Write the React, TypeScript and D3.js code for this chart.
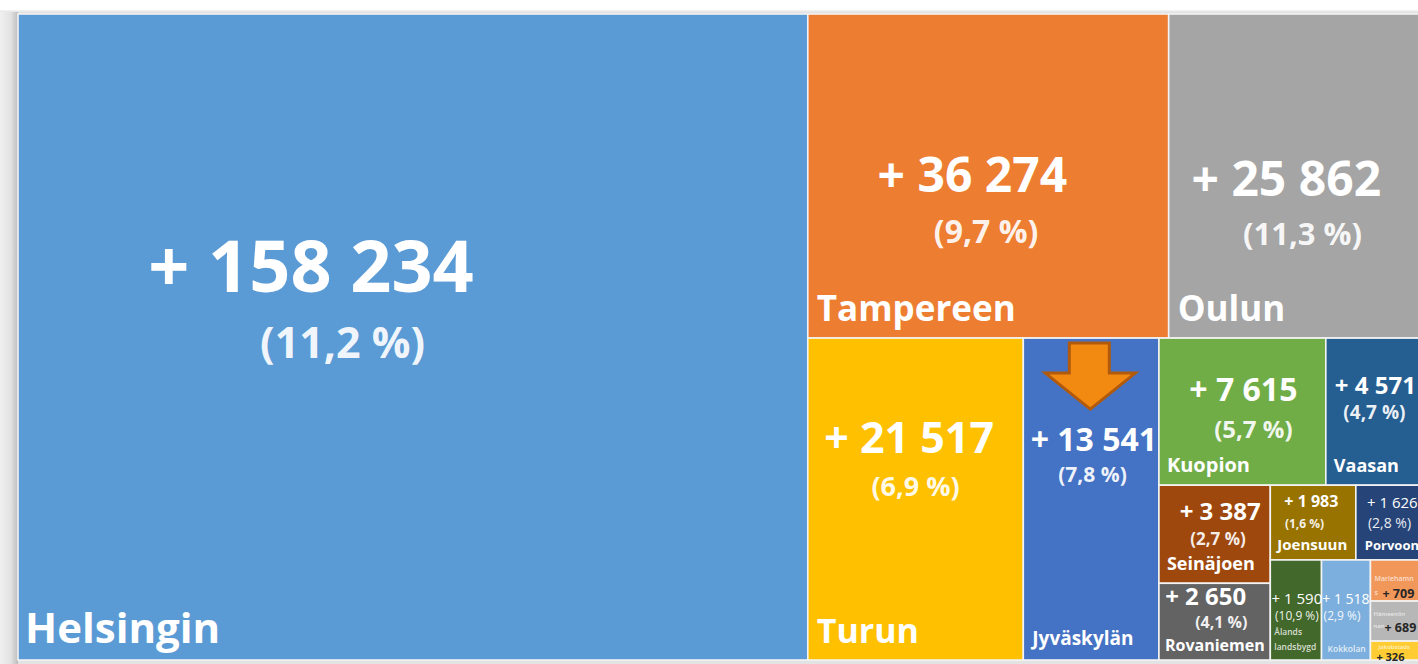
import React from "react";
import * as d3 from "d3";

// ---- data ----
const regions = [
  "Helsingin", "Tampereen", "Oulun", "Turun", "Jyväskylän", "Kuopion", "Vaasan",
  "Seinäjoen", "Rovaniemen", "Joensuun", "Porvoon", "Ålands landsbygd", "Kokkolan",
  "Mariehamns", "Hämeenlinnan", "Jakobstads",
];
const growth = [158234, 36274, 25862, 21517, 13541, 7615, 4571, 3387, 2650, 1983, 1626, 1590, 1518, 709, 689, 326];
const growthPct = ["11,2", "9,7", "11,3", "6,9", "7,8", "5,7", "4,7", "2,7", "4,1", "1,6", "2,8", "10,9", "2,9", "", "", ""];
const colors = [
  "#5B9BD5", "#ED7D31", "#A5A5A5", "#FFC000", "#4472C4", "#70AD47", "#255E91",
  "#9E480E", "#636363", "#997300", "#264478", "#43682B", "#7CAFDD",
  "#F1975A", "#B7B7B7", "#FFCD33",
];
// strip plan of the tiling: [number of items, "col" = strip along left side, "row" = strip along top]
const stripPlan: [number, "col" | "row"][] = [
  [1, "col"], [2, "row"], [1, "col"], [1, "col"], [2, "row"], [2, "col"], [2, "row"], [1, "col"], [1, "col"], [3, "col"],
];

// ---- label styles (sizes / offsets inside each cell) ----
type LS = {
  vs: number; vfx: number; vdy: number; vw?: number;
  ps?: number; pfx?: number; pdy?: number;
  ns: number; nx: number; nb?: number; lines?: string[]; ldy?: number[];
  small?: { vx: number; vdy: number };
};
const labelStyles: LS[] = [
  { vs: 72, vfx: 0.371, vdy: 278, ps: 43, pfx: 0.411, pdy: 344, ns: 42, nx: 7, nb: 17 },
  { vs: 48, vfx: 0.456, vdy: 178, ps: 32, pfx: 0.494, pdy: 229, ns: 35, nx: 9, nb: 17 },
  { vs: 48, vfx: 0.457, vdy: 182, ps: 31, pfx: 0.52, pdy: 231, ns: 35, nx: 9, nb: 17 },
  { vs: 43, vfx: 0.47, vdy: 115, ps: 27, pfx: 0.5, pdy: 158, ns: 34, nx: 9, nb: 17 },
  { vs: 32, vfx: 0.52, vdy: 113, ps: 21, pfx: 0.51, pdy: 144, ns: 19, nx: 9, nb: 15 },
  { vs: 32, vfx: 0.506, vdy: 63, ps: 24, pfx: 0.566, pdy: 100, ns: 20, nx: 8, nb: 13 },
  { vs: 24, vfx: 0.495, vdy: 56, ps: 19, pfx: 0.485, pdy: 81, ns: 18, nx: 8, nb: 13 },
  { vs: 24, vfx: 0.55, vdy: 35, ps: 17, pfx: 0.53, pdy: 60, ns: 18, nx: 8, nb: 13 },
  { vs: 24, vfx: 0.42, vdy: 22, ps: 16, pfx: 0.56, pdy: 45, ns: 16, nx: 6, nb: 9 },
  { vs: 16, vfx: 0.48, vdy: 22, ps: 12, pfx: 0.4, pdy: 43, ns: 15, nx: 7, nb: 10 },
  { vs: 15, vfx: 0.52, vdy: 23, vw: 400, ps: 14, pfx: 0.48, pdy: 43, ns: 13, nx: 9, nb: 10 },
  { vs: 15, vfx: 0.52, vdy: 44, vw: 400, ps: 12, pfx: 0.52, pdy: 60, ns: 8.5, nx: 4, lines: ["Ålands", "landsbygd"], ldy: [75, 90] },
  { vs: 14, vfx: 0.5, vdy: 44, vw: 400, ps: 12, pfx: 0.42, pdy: 60, ns: 8.5, nx: 6, lines: ["Kokkolan"], ldy: [92] },
  { vs: 12.5, vfx: 0, vdy: 0, ns: 7, nx: 4, lines: ["Mariehamn", "s"], ldy: [21, 35], small: { vx: 12, vdy: 38 } },
  { vs: 12.5, vfx: 0, vdy: 0, ns: 6, nx: 3, lines: ["Hämeenlin", "nan"], ldy: [15, 27], small: { vx: 14, vdy: 31 } },
  { vs: 11, vfx: 0, vdy: 0, ns: 6, nx: 8, lines: ["Jakobstads"], ldy: [7.5], small: { vx: 6, vdy: 19.5 } },
];

const W = 1418;
const H = 664;
const area = { x0: 18, y0: 14, x1: 1426, y1: 660 };

const fmtLocale = d3.formatLocale({ decimal: ",", thousands: " ", grouping: [3], currency: ["", ""] });
const fmt = fmtLocale.format(",d");

type Datum = { name: string; value: number; pct: string; color: string; idx: number };

function planTile(parent: any, x0: number, y0: number, x1: number, y1: number) {
  const nodes = parent.children;
  let remaining = d3.sum(nodes, (n: any) => n.value);
  let i = 0;
  for (const [k, dir] of stripPlan) {
    const group = nodes.slice(i, i + k);
    if (!group.length) break;
    const gsum = d3.sum(group, (n: any) => n.value);
    if (dir === "col") {
      const w = ((x1 - x0) * gsum) / remaining;
      let y = y0;
      for (const n of group) {
        const h = ((y1 - y0) * n.value) / gsum;
        n.x0 = x0; n.x1 = x0 + w; n.y0 = y; n.y1 = y + h;
        y += h;
      }
      x0 += w;
    } else {
      const h = ((y1 - y0) * gsum) / remaining;
      let x = x0;
      for (const n of group) {
        const w = ((x1 - x0) * n.value) / gsum;
        n.x0 = x; n.x1 = x + w; n.y0 = y0; n.y1 = y0 + h;
        x += w;
      }
      y0 += h;
    }
    remaining -= gsum;
    i += k;
  }
}

export default function App() {
  const data: Datum[] = regions.map((name, idx) => ({
    name, value: growth[idx], pct: growthPct[idx], color: colors[idx], idx,
  }));
  const root = d3
    .hierarchy<any>({ children: data })
    .sum((d: any) => d.value || 0);
  d3.treemap<any>()
    .tile(planTile as any)
    .size([area.x1 - area.x0, area.y1 - area.y0])(root);
  root.each((n: any) => {
    n.x0 += area.x0; n.x1 += area.x0; n.y0 += area.y0; n.y1 += area.y0;
  });
  const leaves = root.leaves() as any[];
  const font = "'Open Sans', 'DejaVu Sans', sans-serif";

  const jyv = leaves.find((l) => l.data.name === "Jyväskylän");
  const ax = jyv.x0;
  const ay = jyv.y0;
  const arrow = [
    [46, 5], [86, 5], [86, 35], [112, 35], [67, 71], [22, 35], [46, 35],
  ].map(([dx, dy]) => `${ax + dx},${ay + dy}`).join(" ");

  return (
    <svg width={W} height={H} style={{ position: "absolute", left: 0, top: 0, display: "block", background: "#ffffff" }} fontFamily={font}>
      <defs>
        <linearGradient id="frameTop" x1="0" y1="0" x2="0" y2="1">
          <stop offset="0" stopColor="#f4f4f4" />
          <stop offset="1" stopColor="#cfcfcf" />
        </linearGradient>
        <linearGradient id="frameLeft" x1="0" y1="0" x2="1" y2="0">
          <stop offset="0" stopColor="#f0f0f0" />
          <stop offset="0.6" stopColor="#e2e2e2" />
          <stop offset="1" stopColor="#bdbdbd" />
        </linearGradient>
      </defs>
      <rect x={0} y={10} width={W} height={H - 10} fill="#e3e3e3" />
      <rect x={0} y={10} width={W} height={5} fill="url(#frameTop)" />
      <rect x={0} y={12} width={18} height={H - 12} fill="url(#frameLeft)" />
      {leaves.map((l) => (
        <rect
          key={l.data.name}
          x={l.x0}
          y={l.y0}
          width={l.x1 - l.x0}
          height={l.y1 - l.y0}
          fill={l.data.color}
          stroke="#f3f3f3"
          strokeWidth={1.6}
        />
      ))}
      {leaves.map((l) => {
        const s = labelStyles[l.data.idx];
        const w = l.x1 - l.x0;
        const h = l.y1 - l.y0;
        const valueText = "+ " + fmt(l.data.value);
        if (s.small) {
          return (
            <g key={"t" + l.data.name}>
              {s.lines!.map((t, j) => (
                <text key={j} x={l.x0 + s.nx} y={l.y0 + s.ldy![j]} fontSize={s.ns} fill="#ffffff" fillOpacity={0.7} fontWeight={600}>
                  {t}
                </text>
              ))}
              <text x={l.x0 + s.small.vx} y={l.y0 + s.small.vdy} fontSize={s.vs} fontWeight={700} fill="#262626">
                {valueText}
              </text>
            </g>
          );
        }
        return (
          <g key={"t" + l.data.name}>
            <text
              x={l.x0 + w * s.vfx}
              y={l.y0 + s.vdy}
              textAnchor="middle"
              fontSize={s.vs}
              fontWeight={s.vw ?? 700}
              fill="#ffffff"
            >
              {valueText}
            </text>
            {l.data.pct && (
              <text
                x={l.x0 + w * s.pfx!}
                y={l.y0 + s.pdy!}
                textAnchor="middle"
                fontSize={s.ps}
                fontWeight={s.vw ? 400 : 700}
                fill="#ffffff"
                fillOpacity={0.92}
              >
                {`(${l.data.pct} %)`}
              </text>
            )}
            {s.lines
              ? s.lines.map((t, j) => (
                  <text key={j} x={l.x0 + s.nx} y={l.y0 + s.ldy![j]} fontSize={s.ns} fontWeight={600} fill="#ffffff" fillOpacity={0.8}>
                    {t}
                  </text>
                ))
              : (
                <text x={l.x0 + s.nx} y={l.y0 + h - s.nb!} fontSize={s.ns} fontWeight={700} fill="#ffffff">
                  {l.data.name}
                </text>
              )}
          </g>
        );
      })}
      <polygon points={arrow} fill="#F28A12" stroke="#B25A0C" strokeWidth={3} strokeLinejoin="miter" />
    </svg>
  );
}
